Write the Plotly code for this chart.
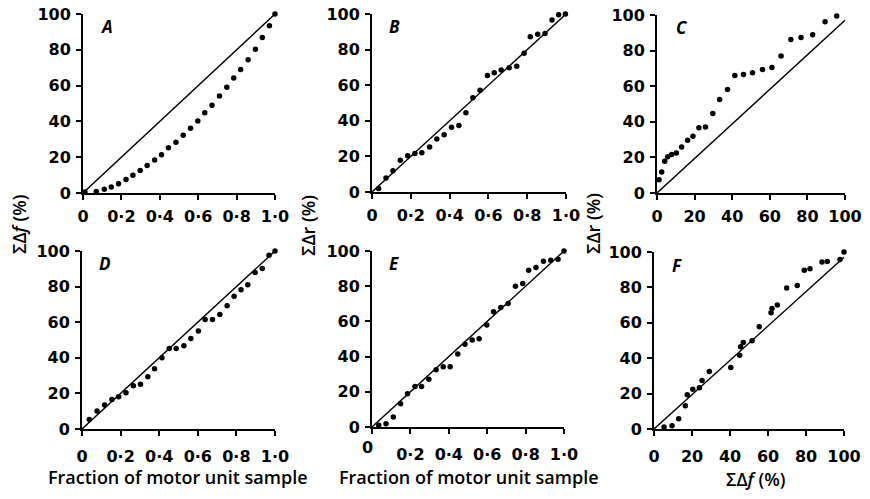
import plotly.graph_objects as go

# The page body has an 8px margin, so the figure is sized to fill the rest of the window.
OFF = 8
FW, FH = 870 - OFF, 499 - OFF


def px2x(px):
    return (px - OFF) / FW


def px2y(py):
    return 1 - (py - OFF) / FH


# ---------------- data ----------------
a_x = [0.01, 0.069, 0.111, 0.147, 0.185, 0.224, 0.260, 0.298, 0.334, 0.373, 0.409, 0.445, 0.484,
       0.522, 0.560, 0.598, 0.634, 0.672, 0.711, 0.749, 0.785, 0.821, 0.860, 0.898, 0.934, 0.971, 1.0]
a_y = [0.5, 0.9, 2.1, 3.4, 5.1, 7.5, 9.9, 12.6, 15.4, 18.4, 21.4, 25.3, 28.3,
       32.3, 36.2, 40.2, 44.8, 49.0, 54.2, 59.1, 64.2, 69.0, 74.5, 80.3, 86.9, 93.4, 100]

b_x = [0.034, 0.072, 0.108, 0.146, 0.184, 0.221, 0.257, 0.297, 0.334, 0.372, 0.410, 0.448, 0.484,
       0.520, 0.557, 0.595, 0.630, 0.666, 0.707, 0.746, 0.784, 0.816, 0.854, 0.892, 0.928, 0.962, 0.997]
b_y = [1.9, 7.9, 12.0, 17.8, 20.3, 21.6, 22.0, 25.3, 29.8, 32.1, 36.4, 37.3, 44.5,
       52.9, 57.2, 65.5, 67.0, 68.5, 69.8, 70.7, 77.9, 87.2, 88.6, 89.1, 96.6, 99.6, 100]

c_x = [1.1, 2.5, 4.1, 5.7, 7.8, 10.3, 13.1, 16.3, 19.1, 22.3, 25.8, 29.7, 33.3,
       37.5, 41.4, 46.0, 50.8, 56.1, 61.1, 66.0, 71.2, 76.6, 82.8, 89.4, 95.6]
c_y = [7.5, 11.8, 17.8, 20.3, 21.6, 22.5, 25.9, 29.6, 31.9, 36.6, 37.1, 44.7, 52.5,
       58.2, 66.0, 66.6, 67.5, 69.4, 70.5, 76.9, 86.3, 87.4, 88.9, 96.2, 99.4]

d_x = [0.038, 0.078, 0.117, 0.155, 0.190, 0.228, 0.266, 0.303, 0.341, 0.376, 0.414, 0.452, 0.488,
       0.528, 0.564, 0.603, 0.638, 0.676, 0.714, 0.752, 0.788, 0.824, 0.859, 0.897, 0.934, 0.969, 1.0]
d_y = [5.4, 10.1, 13.5, 16.6, 18.1, 20.4, 24.3, 25.2, 29.3, 33.8, 40.0, 45.2, 45.2,
       46.7, 50.8, 55.0, 61.5, 61.5, 64.3, 69.2, 74.6, 78.3, 81.1, 87.9, 90.1, 97.6, 100]

e_x = [0.035, 0.073, 0.111, 0.149, 0.185, 0.224, 0.258, 0.296, 0.334, 0.371, 0.407, 0.447, 0.484,
       0.522, 0.558, 0.598, 0.633, 0.671, 0.709, 0.747, 0.785, 0.816, 0.854, 0.893, 0.931, 0.969, 1.0]
e_y = [1.0, 1.9, 5.7, 13.2, 18.9, 23.0, 23.0, 27.2, 32.5, 34.3, 34.3, 41.5, 47.0,
       49.4, 50.2, 57.9, 65.5, 67.9, 70.2, 80.0, 81.5, 89.1, 90.6, 94.2, 94.7, 95.3, 100]

f_x = [5.3, 9.5, 13.0, 16.5, 17.5, 20.4, 23.9, 25.3, 29.1, 40.4, 45.1, 45.6, 47.0,
       51.6, 55.4, 61.6, 62.1, 64.9, 69.8, 75.4, 79.1, 82.1, 88.4, 91.2, 97.9, 100]
f_y = [1.1, 1.9, 5.8, 13.1, 19.3, 22.5, 23.3, 27.4, 32.5, 34.7, 41.7, 46.5, 48.8,
       49.9, 57.8, 65.7, 68.1, 70.0, 79.7, 81.1, 89.7, 90.6, 94.4, 94.7, 95.7, 100]

# reference lines (start, end)
line_frac_x = [0, 1.0]
line_pct_x = [0, 100]
a_line_y = [0, 100]
b_line_y = [0, 100]
c_line_y = [0, 97]
d_line_y = [0, 100]
e_line_y = [0, 100]
f_line_y = [0, 97]

frac_ticks = [0, 0.2, 0.4, 0.6, 0.8, 1.0]
frac_labels = ["0", "0·2", "0·4", "0·6", "0·8", "1·0"]
pct_ticks = [0, 20, 40, 60, 80, 100]
pct_labels = ["0", "20", "40", "60", "80", "100"]
panel_letters = ["A", "B", "C", "D", "E", "F"]

# ---------------- layout geometry (window pixels) ----------------
panels = [
    (83, 275, 14, 193, a_x, a_y, a_line_y, True),
    (372, 566, 14, 192, b_x, b_y, b_line_y, True),
    (657, 845, 15, 193, c_x, c_y, c_line_y, False),
    (82, 275, 251, 429, d_x, d_y, d_line_y, True),
    (372, 564, 251, 427, e_x, e_y, e_line_y, True),
    (654, 844, 252, 429, f_x, f_y, f_line_y, False),
]
letter_pos = [(106, 27), (394, 27), (682, 28), (105, 263), (394, 263), (677, 265)]

TICK_FONT = dict(family="DejaVu Sans", size=16, color="black", weight="bold")
TITLE_FONT = dict(family="Open Sans", size=18, color="black", weight=600)
YTITLE_FONT = dict(family="Open Sans", size=18, color="black", weight=600)
fig = go.Figure()
annotations = []

for i, (x0, x1, yt, yb, xs, ys, ly, frac) in enumerate(panels):
    n = i + 1
    xa = "x" if n == 1 else f"x{n}"
    ya = "y" if n == 1 else f"y{n}"
    lx = line_frac_x if frac else line_pct_x
    fig.add_trace(go.Scatter(x=lx, y=ly, mode="lines", xaxis=xa, yaxis=ya,
                             line=dict(color="black", width=1.4), showlegend=False,
                             hoverinfo="skip"))
    fig.add_trace(go.Scatter(x=xs, y=ys, mode="markers", xaxis=xa, yaxis=ya,
                             marker=dict(color="black", size=5.5), cliponaxis=False,
                             showlegend=False))
    top_row = i < 3
    xt = list(frac_labels if frac else pct_labels)
    if n == 5:
        xt[0] = ""
    xkey = "xaxis" if n == 1 else f"xaxis{n}"
    ykey = "yaxis" if n == 1 else f"yaxis{n}"
    fig.update_layout(**{
        xkey: dict(domain=[px2x(x0), px2x(x1)], anchor=ya,
                   range=[0, 1.0] if frac else [0, 100],
                   tickvals=frac_ticks if frac else pct_ticks, ticktext=xt,
                   showline=True, linewidth=2, linecolor="black",
                   ticks="outside", ticklen=5, tickwidth=2, tickcolor="black",
                   showgrid=False, zeroline=False, automargin=False,
                   ticklabeloverflow="allow",
                   ticklabelstandoff=3 if top_row else 7,
                   tickfont=TICK_FONT, fixedrange=True),
        ykey: dict(domain=[px2y(yb), px2y(yt)], anchor=xa,
                   range=[0, 100], tickvals=pct_ticks, ticktext=pct_labels,
                   showline=True, linewidth=2, linecolor="black",
                   ticks="outside", ticklen=5, tickwidth=2, tickcolor="black",
                   showgrid=False, zeroline=False, ticklabelstandoff=2, automargin=False,
                   ticklabeloverflow="allow",
                   tickfont=TICK_FONT, fixedrange=True),
    })
    lxp, lyp = letter_pos[i]
    annotations.append(dict(x=px2x(lxp), y=px2y(lyp), xref="paper", yref="paper",
                            text=f"<i>{panel_letters[i]}</i>", showarrow=False,
                            font=dict(family="Open Sans", size=17, color="black", weight=700),
                            xanchor="center", yanchor="middle"))

# panel E's offset zero on the x axis
annotations.append(dict(x=px2x(367), y=px2y(447), xref="paper", yref="paper", text="0",
                        showarrow=False, xanchor="center", yanchor="middle", font=TICK_FONT))

# axis titles
annotations += [
    dict(x=px2x(19), y=px2y(225), xref="paper", yref="paper", text="ΣΔ<i>f</i> (%)",
         textangle=-90, showarrow=False, font=YTITLE_FONT, xanchor="center", yanchor="middle"),
    dict(x=px2x(308), y=px2y(226), xref="paper", yref="paper", text="ΣΔr (%)",
         textangle=-90, showarrow=False, font=YTITLE_FONT, xanchor="center", yanchor="middle"),
    dict(x=px2x(593), y=px2y(224), xref="paper", yref="paper", text="ΣΔr (%)",
         textangle=-90, showarrow=False, font=YTITLE_FONT, xanchor="center", yanchor="middle"),
    dict(x=px2x(178), y=px2y(477), xref="paper", yref="paper", text="Fraction of motor unit sample",
         showarrow=False, font=TITLE_FONT, xanchor="center", yanchor="middle"),
    dict(x=px2x(469), y=px2y(477), xref="paper", yref="paper", text="Fraction of motor unit sample",
         showarrow=False, font=TITLE_FONT, xanchor="center", yanchor="middle"),
    dict(x=px2x(755), y=px2y(479), xref="paper", yref="paper", text="ΣΔ<i>f</i> (%)",
         showarrow=False, font=YTITLE_FONT, xanchor="center", yanchor="middle"),
]

fig.update_layout(width=FW, height=FH, margin=dict(l=0, r=0, t=0, b=0, autoexpand=False),
                  paper_bgcolor="white", plot_bgcolor="white",
                  annotations=annotations, showlegend=False)

fig.write_html("out.html")
